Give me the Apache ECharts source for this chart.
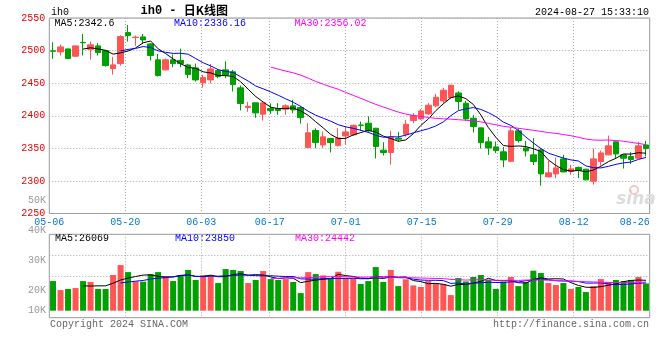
<!DOCTYPE html>
<html><head><meta charset="utf-8">
<script src="https://cdn.jsdelivr.net/npm/echarts@6/dist/echarts.min.js"></script>
<style>html,body{margin:0;padding:0;background:#fff}#c{width:660px;height:360px}</style>
</head><body><div id="c"></div>
<script>
const dates = ['05-06','05-07','05-08','05-09','05-10','05-13','05-14','05-15','05-16','05-17',
'05-20','05-21','05-22','05-23','05-24','05-27','05-28','05-29','05-30','05-31',
'06-03','06-04','06-05','06-06','06-07','06-11','06-12','06-13','06-14','06-17',
'06-18','06-19','06-20','06-21','06-24','06-25','06-26','06-27','06-28','07-01',
'07-02','07-03','07-04','07-05','07-08','07-09','07-10','07-11','07-12','07-15',
'07-16','07-17','07-18','07-19','07-22','07-23','07-24','07-25','07-26','07-29',
'07-30','07-31','08-01','08-02','08-05','08-06','08-07','08-08','08-09','08-12',
'08-13','08-14','08-15','08-16','08-19','08-20','08-21','08-22','08-23','08-26'];
const labelDates = ['05-06','05-20','06-03','06-17','07-01','07-15','07-29','08-12','08-26'];

const opens = [2499.6,2498.0,2502.6,2491.4,2512.6,2502.0,2507.2,2500.0,2472.4,2480.0,
2527.6,2520.0,2521.0,2510.2,2485.8,2470.4,2485.8,2484.8,2478.0,2473.4,
2450.8,2455.0,2469.4,2470.4,2467.4,2442.8,2412.6,2419.8,2402.4,2411.0,
2411.0,2410.0,2415.2,2412.6,2351.2,2377.2,2355.2,2365.0,2354.2,2369.0,
2370.6,2385.8,2388.6,2380.8,2347.2,2343.6,2365.6,2371.6,2392.6,2395.2,
2402.8,2415.2,2422.8,2428.0,2435.0,2419.2,2396.2,2381.4,2360.0,2352.2,
2344.6,2330.2,2376.8,2350.6,2340.0,2347.6,2306.2,2310.8,2333.8,2314.4,
2320.6,2318.0,2299.6,2329.8,2340.0,2360.0,2340.0,2337.4,2334.8,2355.2];
const closes = [2499.0,2505.6,2487.8,2507.2,2512.0,2508.8,2497.0,2477.0,2478.0,2521.6,
2523.0,2520.6,2516.4,2492.4,2461.6,2485.8,2480.0,2480.0,2463.2,2455.0,
2458.6,2471.8,2460.2,2462.2,2447.8,2418.8,2414.6,2404.4,2419.8,2408.0,
2408.0,2415.2,2409.0,2397.2,2373.8,2358.8,2367.6,2358.8,2366.0,2375.2,
2385.4,2385.2,2376.8,2352.8,2343.6,2367.0,2364.0,2387.0,2400.4,2407.4,
2416.2,2428.4,2439.2,2446.8,2421.8,2395.2,2383.4,2358.8,2350.6,2346.6,
2332.2,2376.8,2362.0,2346.0,2329.8,2310.8,2312.4,2320.0,2313.8,2318.4,
2316.0,2301.6,2333.8,2343.0,2353.8,2341.4,2334.8,2332.8,2353.8,2349.6];
const lows = [2487.2,2492.4,2487.0,2490.4,2492.4,2486.2,2492.4,2475.4,2463.2,2477.0,
2513.8,2507.2,2510.2,2484.8,2460.2,2469.4,2474.4,2474.4,2457.6,2452.4,
2443.2,2449.8,2457.6,2457.6,2437.2,2408.0,2406.0,2396.8,2392.6,2402.8,
2401.4,2401.4,2403.8,2388.0,2350.8,2350.2,2350.8,2343.6,2352.8,2355.8,
2369.0,2376.8,2374.2,2334.4,2339.0,2325.0,2360.4,2368.0,2388.6,2393.6,
2401.4,2413.0,2419.2,2425.4,2409.0,2392.2,2374.2,2349.6,2340.0,2342.6,
2321.0,2329.2,2358.8,2337.4,2324.6,2292.8,2305.6,2304.2,2313.4,2309.2,
2304.2,2301.0,2294.4,2323.6,2339.4,2334.8,2319.0,2326.0,2333.8,2337.4];
const highs = [2512.8,2509.2,2503.0,2507.8,2525.6,2513.8,2511.4,2501.0,2490.4,2523.6,
2539.4,2523.0,2525.6,2511.0,2494.8,2487.8,2494.0,2503.0,2479.6,2480.0,
2463.0,2479.6,2471.8,2483.6,2470.4,2446.4,2421.2,2420.2,2420.8,2418.8,
2419.2,2417.6,2424.4,2415.2,2388.6,2380.8,2375.8,2366.0,2380.8,2383.4,
2386.4,2391.0,2399.2,2381.4,2359.4,2376.8,2374.8,2393.6,2403.8,2410.0,
2419.8,2433.6,2442.8,2447.4,2437.6,2422.8,2401.4,2381.8,2367.6,2360.4,
2352.2,2382.4,2380.8,2361.4,2365.6,2350.2,2331.2,2335.8,2340.0,2324.6,
2322.0,2318.4,2349.6,2346.6,2369.6,2360.4,2341.4,2344.0,2360.0,2361.4];
const volumes = [25400,17700,18600,19400,25400,24600,18600,18600,30600,39100,
33100,25100,24900,31400,33100,29700,25400,30600,34900,26300,
30300,30300,23700,35700,34900,34000,23700,26300,34000,27100,
26300,27100,24600,15100,33100,31400,30300,27700,33400,27700,
27700,22900,25400,37400,24600,34900,21100,26900,21700,20300,
25400,22900,22900,13400,28000,25100,28900,30600,26300,18600,
25100,28900,21100,24600,34300,32300,23700,22000,23700,18600,
20300,16000,21100,27100,24600,26300,25400,26300,28900,23400];

const priceLegend = ['MA5:2342.6','MA10:2336.16','MA30:2356.02'];
const volLegend = ['MA5:26069','MA10:23850','MA30:24442'];
const volTickLabels = ['50K','40K','30K','20K','10K'];

const UP = '#ff5555', DOWN = '#00a000';
const MONO = '"Liberation Mono","DejaVu Sans Mono",monospace';

function movingAverage(arr, n) {
  return arr.map((v, i) => {
    if (i < n - 1) return '-';
    let s = 0;
    for (let k = i - n + 1; k <= i; k++) s += arr[k];
    return +(s / n).toFixed(2);
  });
}

const candleData = dates.map((d, i) => [opens[i], closes[i], lows[i], highs[i]]);
const volData = volumes.map((v, i) => ({
  value: v,
  itemStyle: { color: closes[i] >= opens[i] ? UP : DOWN }
}));

const dotted = { show: true, lineStyle: { color: '#aaa', type: [1, 2], width: 1 } };
const showIdx = (idx, val) => labelDates.indexOf(val) >= 0;
const splitIdx = (idx, val) => labelDates.indexOf(val) > 0 && labelDates.indexOf(val) < labelDates.length - 1;

const L = 49.3, W = 600.4;
const chart = echarts.init(document.getElementById('c'), null, { renderer: 'canvas' });

function lineSeries(name, data, color, xi, yi) {
  return { name, type: 'line', data, xAxisIndex: xi, yAxisIndex: yi, symbol: 'none', z: 5,
    lineStyle: { color, width: 1 }, itemStyle: { color }, silent: true };
}

const textStyle = (t, x, y, color, align, size) => ({
  type: 'text', x, y,
  style: { text: t, fill: color, font: (size || 10) + 'px ' + MONO, textAlign: align || 'left', textVerticalAlign: 'middle' }
});

chart.setOption({
  animation: false,
  grid: [
    { left: L, width: W, top: 18, height: 195.5, show: true, borderColor: '#999', borderWidth: 1 },
    { left: L, width: W, top: 234.3, height: 83.4, show: true, borderColor: '#999', borderWidth: 1 }
  ],
  xAxis: [
    { type: 'category', gridIndex: 0, position: 'bottom', data: dates, boundaryGap: true, show: false },
    { type: 'category', gridIndex: 0, position: 'bottom', data: dates, boundaryGap: false,
      axisLine: { show: false }, axisTick: { show: false },
      axisLabel: { interval: showIdx, color: '#0078d7', fontFamily: MONO, fontSize: 10, margin: 4,
        alignMaxLabel: 'right', hideOverlap: false },
      splitLine: Object.assign({ interval: splitIdx }, dotted) },
    { type: 'category', gridIndex: 1, position: 'bottom', data: dates, boundaryGap: true, show: false },
    { type: 'category', gridIndex: 1, position: 'bottom', data: dates, boundaryGap: false,
      axisLine: { show: false }, axisTick: { show: false }, axisLabel: { show: false },
      splitLine: Object.assign({ interval: splitIdx }, dotted) }
  ],
  yAxis: [
    { type: 'value', gridIndex: 0, min: 2250, max: 2550, interval: 50,
      axisLine: { show: false }, axisTick: { show: false },
      axisLabel: { color: '#ee0000', fontFamily: MONO, fontSize: 10, margin: 4, formatter: v => String(v) },
      splitLine: dotted },
    { type: 'value', gridIndex: 1, min: -6000, max: 65500, interval: 17875,
      axisLine: { show: false }, axisTick: { show: false }, axisLabel: { show: false },
      splitLine: dotted }
  ],
  series: [
    { type: 'candlestick', xAxisIndex: 0, yAxisIndex: 0, data: candleData, barWidth: 6,
      itemStyle: { color: UP, color0: DOWN, borderColor: UP, borderColor0: DOWN, borderColorDoji: UP, borderWidth: 1 } },
    lineSeries('MA5', movingAverage(closes, 5), '#000000', 0, 0),
    lineSeries('MA10', movingAverage(closes, 10), '#0000ff', 0, 0),
    lineSeries('MA30', movingAverage(closes, 30), '#ff00ff', 0, 0),
    { type: 'bar', xAxisIndex: 2, yAxisIndex: 1, data: volData, barWidth: 6 },
    lineSeries('VMA5', movingAverage(volumes, 5), '#000000', 2, 1),
    lineSeries('VMA10', movingAverage(volumes, 10), '#0000ff', 2, 1),
    lineSeries('VMA30', movingAverage(volumes, 30), '#ff00ff', 2, 1)
  ],
  graphic: [
    textStyle('ih0', 51, 12.5, '#000'),
    { type: 'text', x: 140.5, y: 10.5, style: { text: '{a|ih0 - }{b|日K线图}', textVerticalAlign: 'middle',
      rich: { a: { font: 'bold 12px ' + MONO, fill: '#000' }, b: { font: 'bold 12px "Noto Sans CJK SC"', fill: '#000' } } } },
    textStyle('2024-08-27 15:33:10', 649, 12.5, '#000', 'right'),
    textStyle(priceLegend[0], 54.5, 23.5, '#000'),
    textStyle(priceLegend[1], 174, 23.5, '#0000ff'),
    textStyle(priceLegend[2], 294.5, 23.5, '#ff00ff'),
    textStyle(volLegend[0], 55, 238.5, '#000'),
    textStyle(volLegend[1], 175, 238.5, '#0000ff'),
    textStyle(volLegend[2], 295, 238.5, '#ff00ff'),
    textStyle(volTickLabels[0], 46, 200.7, '#999', 'right'),
    textStyle(volTickLabels[1], 46, 230.7, '#999', 'right'),
    textStyle(volTickLabels[2], 46, 260.7, '#999', 'right'),
    textStyle(volTickLabels[3], 46, 290, '#999', 'right'),
    textStyle(volTickLabels[4], 46, 310, '#999', 'right'),
    textStyle('Copyright 2024 SINA.COM', 50, 324, '#666'),
    textStyle('http://finance.sina.com.cn', 649, 324, '#666', 'right'),
    { type: 'text', x: 636, y: 200, z: 0, style: { text: 'sina', fill: '#dcdcdc', font: 'italic bold 17px "DejaVu Sans"', textAlign: 'center', textVerticalAlign: 'middle' } },
    { type: 'circle', shape: { cx: 634, cy: 190, r: 4 }, z: 0, style: { fill: 'none', stroke: '#f3c8c8', lineWidth: 2 } }
  ]
});
</script>
</body></html>
